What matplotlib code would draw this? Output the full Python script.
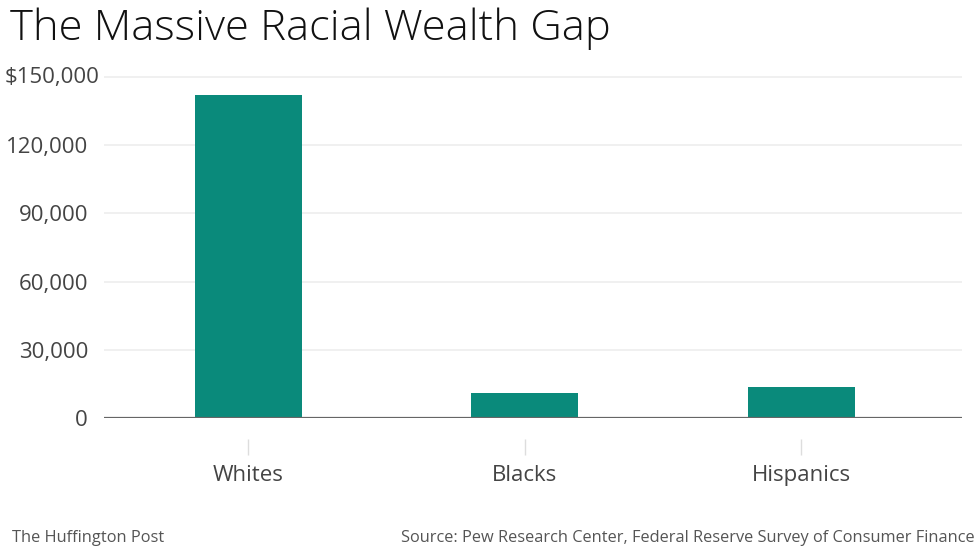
import matplotlib
matplotlib.use("Agg")
import matplotlib.pyplot as plt
import matplotlib.transforms as mtransforms

# median household wealth, 2013
groups = ["Whites", "Blacks", "Hispanics"]
wealth = [141900, 11000, 13700]
yticks = [0, 30000, 60000, 90000, 120000, 150000]
ytick_labels = ["0", "30,000", "60,000", "90,000", "120,000", ""]
top_label = "$150,000"

plt.rcParams["font.family"] = ["Open Sans", "DejaVu Sans"]

fig = plt.figure(figsize=(9.77, 5.47), dpi=100)
ax = fig.add_axes([104 / 977, 1 - 418 / 547, (962 - 104) / 977, (418 - 72.5) / 547])

x = list(range(len(groups)))
ax.bar(x, wealth, width=0.387, color="#0a8a7b", zorder=2)

ax.set_xlim(-0.521, 2.582)
ax.set_ylim(0, 152000)
ax.set_yticks(yticks)
ax.set_yticklabels(ytick_labels)
ax.set_xticks(x)
ax.set_xticklabels(groups)

for side in ["top", "right", "left"]:
    ax.spines[side].set_visible(False)
# x ticks sit a little below the baseline
ax.spines["bottom"].set_position(("outward", 15))
ax.spines["bottom"].set_visible(False)
ax.axhline(0, color="#666666", lw=1.6, zorder=3)

ax.grid(axis="y", color="#eeeeee", lw=1.2, zorder=0)
ax.tick_params(axis="y", length=0, pad=11.5, labelsize=16, labelcolor="#444444")
ax.tick_params(axis="x", length=11.5, width=1, color="#dddddd", pad=7,
               labelsize=16, labelcolor="#444444")

trans = mtransforms.blended_transform_factory(fig.transFigure, ax.transData)
ax.text(5 / 977, yticks[-1], top_label, transform=trans, ha="left", va="center",
        fontsize=16, color="#444444")

fig.text(10 / 977, 1 - 40 / 547, "The Massive Racial Wealth Gap",
         fontsize=31.3, fontweight="light", color="#111111", ha="left", va="baseline")
fig.text(12 / 977, 1 - 542 / 547, "The Huffington Post",
         fontsize=11.8, color="#555555", ha="left", va="baseline")
fig.text(975 / 977, 1 - 542 / 547,
         "Source: Pew Research Center, Federal Reserve Survey of Consumer Finance",
         fontsize=11.8, color="#555555", ha="right", va="baseline")

fig.savefig("out.png", dpi=100, facecolor="white")
